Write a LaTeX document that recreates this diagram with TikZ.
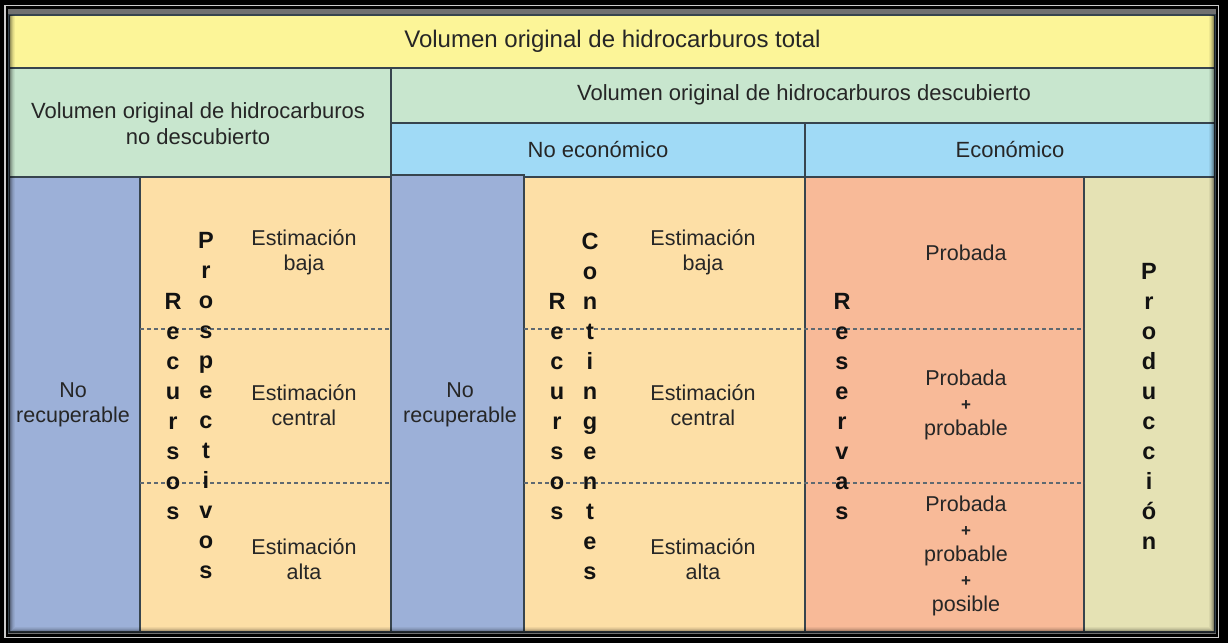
\documentclass[tikz,border=0pt]{standalone}
\usepackage{fontspec}
\setmainfont{Liberation Sans}
\definecolor{cyellow}{RGB}{252,245,152}
\definecolor{cgreen}{RGB}{200,230,206}
\definecolor{cband}{RGB}{160,218,246}
\definecolor{cblue}{RGB}{156,176,216}
\definecolor{corange}{RGB}{253,223,166}
\definecolor{csalmon}{RGB}{248,186,152}
\definecolor{ckhaki}{RGB}{229,226,180}
\definecolor{cline}{RGB}{55,68,78}
\definecolor{ctext}{RGB}{38,38,38}
\definecolor{cletter}{RGB}{18,18,18}
\definecolor{cframe}{RGB}{112,112,112}
\begin{document}
\begin{tikzpicture}[x=1pt,y=-1pt,
  cell/.style={draw=cline, line width=1.3pt},
  dashline/.style={draw=cline!80, line width=1.1pt, dash pattern=on 4pt off 3pt},
  hdr/.style={text=ctext, font=\fontsize{22}{26}\selectfont, align=center, inner sep=0pt},
  body/.style={text=ctext, font=\fontsize{21.5}{25}\selectfont, align=center, inner sep=0pt},
  vword/.style={text=cletter, font=\fontsize{23.5}{30}\selectfont\bfseries, align=center, inner sep=0pt}]
\useasboundingbox (0,0) rectangle (1228,643);
\fill[black] (0,0) rectangle (1228,643);
\draw[white!80!black, line width=1.5pt] (5,5.5) rectangle (1218.5,637.5);
\fill[cframe] (8,9) rectangle (1216,634);
% cells
\path[cell, fill=cyellow] (9,15) rectangle (1215,68);
\path[cell, fill=cgreen] (9,68) rectangle (391,177);
\path[cell, fill=cgreen] (391,68) rectangle (1215,123);
\path[cell, fill=cband] (391,123) rectangle (805,177);
\path[cell, fill=cband] (805,123) rectangle (1215,177);
\path[cell, fill=cblue] (9,177) rectangle (140,632);
\path[cell, fill=corange] (140,177) rectangle (391,632);
\path[cell, fill=corange] (524,177) rectangle (805,632);
\path[cell, fill=cblue] (391,175) rectangle (524,632);
\path[cell, fill=csalmon] (805,177) rectangle (1084,632);
\path[cell, fill=ckhaki] (1084,177) rectangle (1215,632);
% dashed separators
\draw[dashline] (140,329) -- (391,329);
\draw[dashline] (524,329) -- (1084,329);
\draw[dashline] (140,483) -- (391,483);
\draw[dashline] (524,483) -- (1084,483);
% inner shadow of the frame
\foreach \i/\o in {0.5/0.55,1.5/0.4,2.5/0.28,3.5/0.18,4.5/0.1,5.5/0.05}
  \draw[black, opacity=\o, line width=1pt] (9+\i,15) -- (9+\i,633-\i) -- (1215-\i,633-\i) -- (1215-\i,15);
% texts
\node[hdr, font=\fontsize{24}{28}\selectfont] (title) at (612.5,41) {Volumen original de hidrocarburos total};
\node[hdr] (nodesc) at (198,124) {Volumen original de hidrocarburos\\no descubierto};
\node[hdr] (desc) at (804,95) {Volumen original de hidrocarburos descubierto};
\node[hdr] (noeco) at (598,150) {No económico};
\node[hdr] (eco) at (1010,150) {Económico};
\node[body] (norec1) at (73,405) {No\\recuperable};
\node[body] (norec2) at (460,405) {No\\recuperable};
\node[vword] (rec1) at (173,407) {R\\e\\c\\u\\r\\s\\o\\s};
\node[vword] (prosp) at (206,406) {P\\r\\o\\s\\p\\e\\c\\t\\i\\v\\o\\s};
\node[vword] (rec2) at (557,407) {R\\e\\c\\u\\r\\s\\o\\s};
\node[vword] (cont) at (590,406) {C\\o\\n\\t\\i\\n\\g\\e\\n\\t\\e\\s};
\node[vword] (reserv) at (842,407) {R\\e\\s\\e\\r\\v\\a\\s};
\node[vword] (prod) at (1149,406) {P\\r\\o\\d\\u\\c\\c\\i\\ó\\n};
\node[body] (eb1) at (304,252) {Estimación\\baja};
\node[body] (ec1) at (304,405) {Estimación\\central};
\node[body] (ea1) at (304,559) {Estimación\\alta};
\node[body] (eb2) at (703,252) {Estimación\\baja};
\node[body] (ec2) at (703,405) {Estimación\\central};
\node[body] (ea2) at (703,559) {Estimación\\alta};
\node[body] (p1) at (966,253) {Probada};
\node[body] (p2) at (966,405) {Probada\\{\fontsize{17}{25}\selectfont\bfseries +}\\probable};
\node[body] (p3) at (966,556) {Probada\\{\fontsize{17}{25}\selectfont\bfseries +}\\probable\\{\fontsize{17}{25}\selectfont\bfseries +}\\posible};
\end{tikzpicture}
\end{document}
